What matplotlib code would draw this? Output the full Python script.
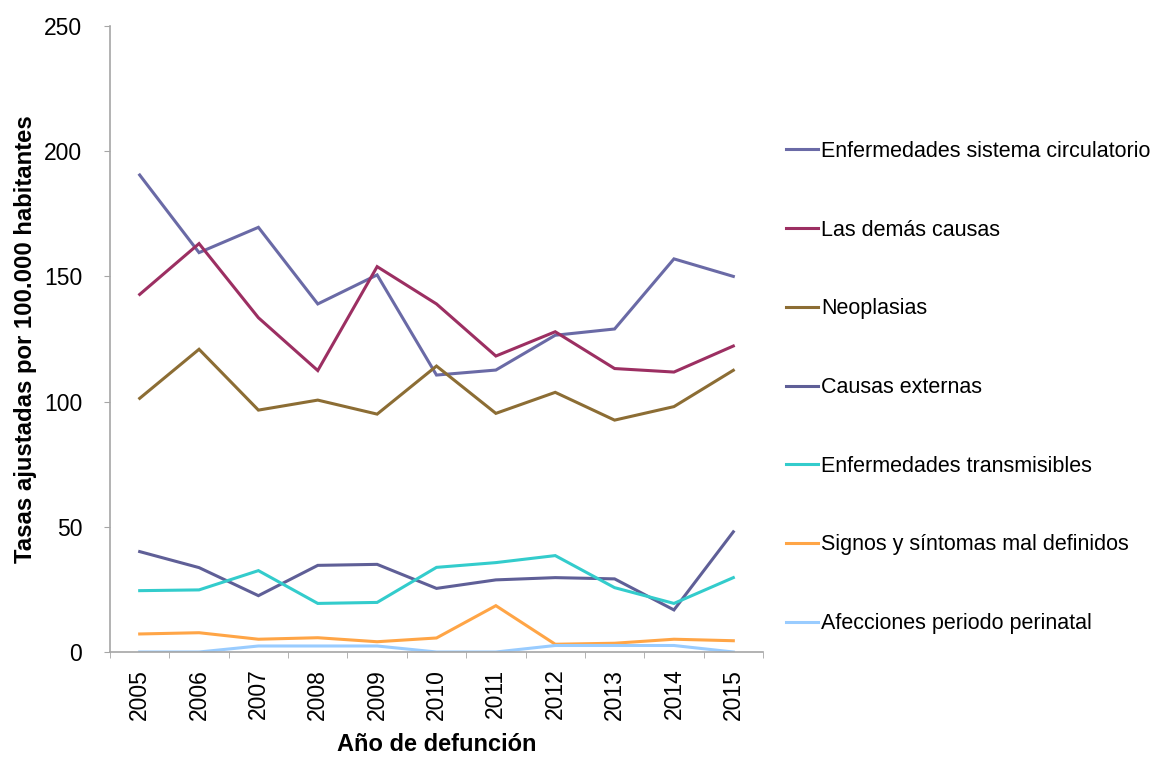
import numpy as np
import matplotlib
matplotlib.use('Agg')
import matplotlib.pyplot as plt

plt.rcParams['font.family'] = ['Liberation Sans Narrow', 'Liberation Sans', 'DejaVu Sans']

years = ['2005', '2006', '2007', '2008', '2009', '2010', '2011', '2012', '2013', '2014', '2015']

circulatorio = [190.5, 159.5, 169.6, 139.0, 150.6, 110.6, 112.6, 126.5, 129.0, 157.0, 150.0]
demas_causas = [142.8, 163.1, 133.5, 112.4, 153.9, 139.0, 118.2, 127.9, 113.2, 111.8, 122.2]
neoplasias = [101.3, 120.9, 96.6, 100.6, 95.0, 114.2, 95.3, 103.7, 92.6, 98.0, 112.5]
causas_externas = [40.1, 33.7, 22.5, 34.6, 35.0, 25.4, 28.8, 29.7, 29.2, 16.8, 48.0]
transmisibles = [24.5, 24.8, 32.5, 19.4, 19.8, 33.8, 35.7, 38.5, 25.7, 19.4, 29.7]
signos = [7.2, 7.7, 5.1, 5.7, 4.1, 5.6, 18.5, 3.1, 3.5, 5.1, 4.5]
perinatal = [0.0, 0.0, 2.4, 2.4, 2.4, 0.0, 0.0, 2.6, 2.6, 2.6, 0.0]

series = [
    ("Enfermedades sistema circulatorio", circulatorio, '#6A6AA6'),
    ("Las demás causas", demas_causas, '#9C2F62'),
    ("Neoplasias", neoplasias, '#8C6D34'),
    ("Causas externas", causas_externas, '#5F5F97'),
    ("Enfermedades transmisibles", transmisibles, '#33CCCC'),
    ("Signos y síntomas mal definidos", signos, '#FFA546'),
    ("Afecciones periodo perinatal", perinatal, '#99CCFF'),
]

fig = plt.figure(figsize=(11.64, 7.57), dpi=100)
ax = fig.add_axes([110 / 1164, 1 - 652 / 757, 653 / 1164, 626 / 757])

x = np.arange(len(years))
for name, vals, col in series:
    ax.plot(x, vals, color=col, lw=2.2, label=name, solid_joinstyle='miter')

ax.set_xlim(-0.5, len(years) - 0.5)
ax.set_ylim(0, 250)
ax.set_yticks([0, 50, 100, 150, 200, 250])
ax.set_xticks(x)
ax.set_xticklabels(years, rotation=90, fontsize=16.5)
ax.set_xticks(np.arange(-0.5, len(years)), minor=True)
ax.tick_params(axis='x', which='major', length=0, pad=12)
ax.tick_params(axis='x', which='minor', length=4, color='#A6A6A6')
ax.tick_params(axis='y', length=4, color='#A6A6A6', labelsize=16.5, pad=16)

for s in ['top', 'right']:
    ax.spines[s].set_visible(False)
for s in ['left', 'bottom']:
    ax.spines[s].set_color('#A6A6A6')
    ax.spines[s].set_linewidth(1.2)

ax.set_xlabel('Año de defunción', fontsize=17, fontweight='bold', labelpad=10)
ax.set_ylabel('Tasas ajustadas por 100.000 habitantes', fontsize=17.2, fontweight='bold', labelpad=5)

fig.legend(loc='upper left', bbox_to_anchor=(786 / 1164, 1 - 141 / 757),
           frameon=False, fontsize=15.5, handlelength=1.5, handletextpad=0.12,
           labelspacing=2.68, borderpad=0, borderaxespad=0)

fig.savefig('out.png', dpi=100)
